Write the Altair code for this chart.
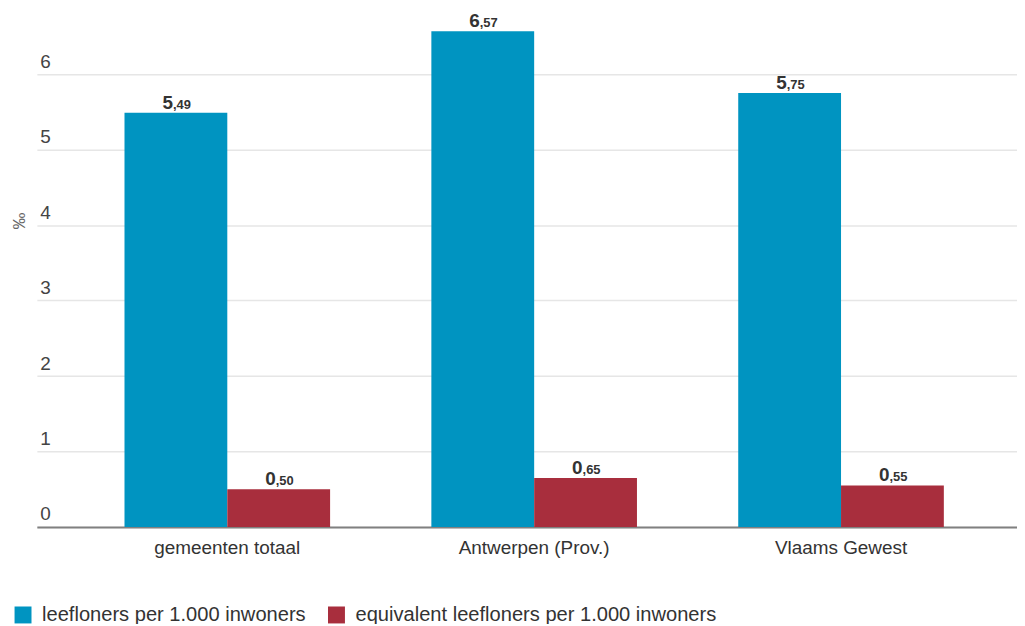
import altair as alt
import pandas as pd

categories = ["gemeenten totaal", "Antwerpen (Prov.)", "Vlaams Gewest"]
series = ["leefloners per 1.000 inwoners", "equivalent leefloners per 1.000 inwoners"]
leefloners = [5.49, 6.57, 5.75]
equivalent = [0.50, 0.65, 0.55]
colors = ["#0094C1", "#A82E3D"]

rows = []
for c, a, b in zip(categories, leefloners, equivalent):
    for s, v in zip(series, [a, b]):
        txt = f"{v:.2f}"
        ip, dp = txt.split(".")
        rows.append({"cat": c, "serie": s, "value": v, "ip": ip, "dp": "," + dp})
df = pd.DataFrame(rows)

FONT = "Arial, Liberation Sans, sans-serif"

x_enc = alt.X("cat:N", sort=categories, title=None,
              scale=alt.Scale(paddingInner=0.33, paddingOuter=0.262, align=0.545),
              axis=alt.Axis(labelAngle=0, labelFontSize=19, labelColor="#333333", labelFont=FONT,
                            labelPadding=12, ticks=False, domainColor="#808080", domainWidth=2,
                            grid=False))
xo_enc = alt.XOffset("serie:N", sort=series, scale=alt.Scale(paddingInner=0, paddingOuter=0))
y_enc = alt.Y("value:Q", title="‰",
              scale=alt.Scale(domain=[0, 6.857], nice=False, zero=True),
              axis=alt.Axis(values=[0, 1, 2, 3, 4, 5, 6], format="d", grid=True, gridColor="#e6e6e6",
                            gridWidth=1.5, domain=False, ticks=False, tickSize=0, labelAlign="left",
                            labelBaseline="bottom", labelPadding=-3, labelOffset=-3, labelFontSize=19,
                            labelColor="#444444", labelFont=FONT, titleFont=FONT, titleFontSize=17,
                            titleColor="#666666", titleFontWeight="normal", titleAngle=-90,
                            titleX=-8, titleY=212))

base = alt.Chart(df)
bars = base.mark_bar().encode(
    x=x_enc, xOffset=xo_enc, y=y_enc,
    color=alt.Color("serie:N", sort=series, scale=alt.Scale(domain=series, range=colors),
                    legend=alt.Legend(title=None, orient="none", legendX=-24, legendY=598,
                                      direction="horizontal", symbolType="square",
                                      symbolSize=290, symbolStrokeWidth=0, labelFontSize=20.2,
                                      labelColor="#333333", labelFont=FONT, columnPadding=20,
                                      labelLimit=600, labelOffset=9))
)
ip_text = base.mark_text(align="right", baseline="alphabetic", dx=-3, dy=-4, fontSize=19,
                         fontWeight="bold", color="#333333", font=FONT).encode(
    x=alt.X("cat:N", sort=categories), xOffset=alt.XOffset("serie:N", sort=series), y="value:Q", text="ip:N")
dp_text = base.mark_text(align="left", baseline="alphabetic", dx=-3, dy=-4, fontSize=13,
                         fontWeight="bold", color="#333333", font=FONT).encode(
    x=alt.X("cat:N", sort=categories), xOffset=alt.XOffset("serie:N", sort=series), y="value:Q", text="dp:N")

chart = alt.layer(bars, ip_text, dp_text).properties(
    width=985, height=520,
    autosize=alt.AutoSizeParams(type="none"),
    padding={"left": 29, "top": 0, "right": 0, "bottom": 96},
).configure_view(stroke=None)

chart.save("out.html", embed_options={"renderer": "svg", "actions": False})
